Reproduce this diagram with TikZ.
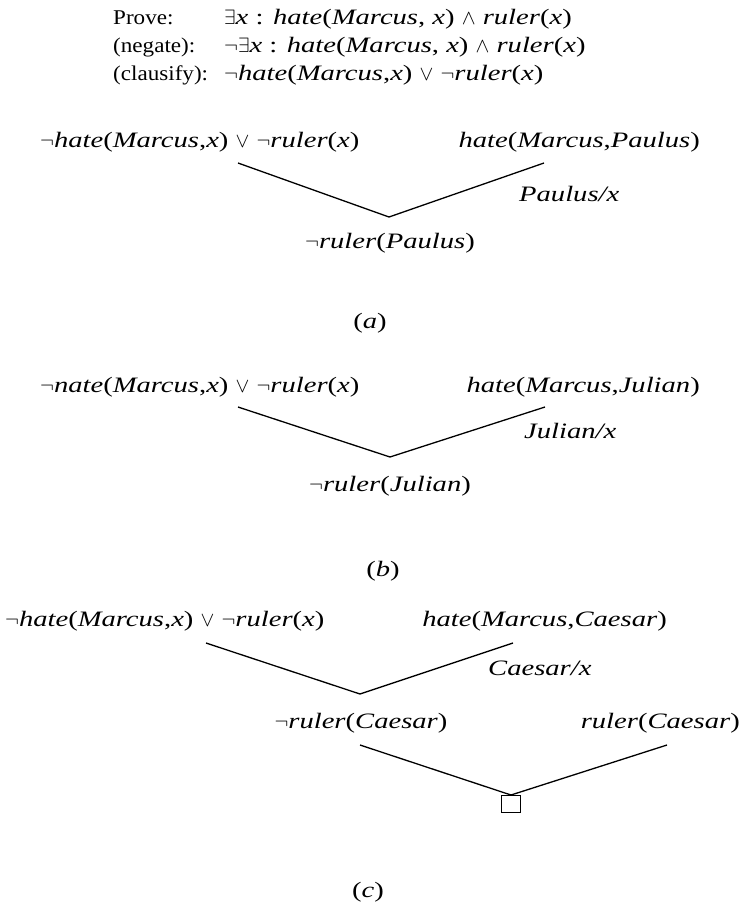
\documentclass[tikz,border=0pt]{standalone}
\usepackage{fontspec}
\setmainfont{Liberation Serif}[FakeStretch=1.3]
\newfontfamily\hdrfont{Liberation Serif}[FakeStretch=1.1]
\newcommand\pr[1]{\textit{#1}}
\newcommand\lgNeg{\ensuremath{\neg}}
\newcommand\lgOr{\ensuremath{\vee}}
\newcommand\lgAnd{\ensuremath{\wedge}}
\newcommand\lgEx{\ensuremath{\exists}}
\begin{document}
\begin{tikzpicture}[x=1pt,y=-1pt,
  txt/.style={inner sep=0pt,anchor=base west,font=\fontsize{22}{26}\selectfont},
  hdr/.style={inner sep=0pt,anchor=base west,font=\hdrfont\fontsize{21}{26}\selectfont},
  txtr/.style={txt,anchor=base east},
  txtc/.style={txt,anchor=base},
  edge/.style={line width=1.3pt,line join=miter},
  empty/.style={draw,line width=1.2pt,minimum width=19pt,minimum height=17pt,inner sep=0pt,anchor=north}]
\useasboundingbox (0,0) rectangle (741,906);

% goal and its negation in clause form
\node[hdr] (h1l) at (113,24) {Prove:};
\node[hdr] (h2l) at (113,52) {(negate):};
\node[hdr] (h3l) at (113,80) {(clausify):};
\node[txt] (h1r) at (224,24) {\lgEx\pr{x} : \pr{hate}(\pr{Marcus}, \pr{x}) \lgAnd{} \pr{ruler}(\pr{x})};
\node[txt] (h2r) at (224,52) {\lgNeg\lgEx\pr{x} : \pr{hate}(\pr{Marcus}, \pr{x}) \lgAnd{} \pr{ruler}(\pr{x})};
\node[txt] (h3r) at (224,80) {\lgNeg\pr{hate}(\pr{Marcus},\pr{x}) \lgOr{} \lgNeg\pr{ruler}(\pr{x})};

% (a) resolution with Paulus
\node[txt] (a1) at (40,147) {\lgNeg\pr{hate}(\pr{Marcus},\pr{x}) \lgOr{} \lgNeg\pr{ruler}(\pr{x})};
\node[txtr] (a2) at (700,147) {\pr{hate}(\pr{Marcus},\pr{Paulus})};
\coordinate (aL) at (238,163);
\coordinate (aV) at (389,217);
\coordinate (aR) at (544,163);
\draw[edge] (aL) -- (aV) -- (aR);
\node[txt] (asub) at (519,201) {\pr{Paulus/x}};
\node[txtc] (ares) at (390,248) {\lgNeg\pr{ruler}(\pr{Paulus})};
\node[txtc] (acap) at (370,328) {(\pr{a})};

% (b) resolution with Julian
\node[txt] (b1) at (40,392) {\lgNeg\pr{nate}(\pr{Marcus},\pr{x}) \lgOr{} \lgNeg\pr{ruler}(\pr{x})};
\node[txtr] (b2) at (700,392) {\pr{hate}(\pr{Marcus},\pr{Julian})};
\coordinate (bL) at (238,407);
\coordinate (bV) at (390,457);
\coordinate (bR) at (545,407);
\draw[edge] (bL) -- (bV) -- (bR);
\node[txt] (bsub) at (524,438) {\pr{Julian/x}};
\node[txtc] (bres) at (390,491) {\lgNeg\pr{ruler}(\pr{Julian})};
\node[txtc] (bcap) at (383,576) {(\pr{b})};

% (c) resolution with Caesar, ending in the empty clause
\node[txt] (c1) at (5,626) {\lgNeg\pr{hate}(\pr{Marcus},\pr{x}) \lgOr{} \lgNeg\pr{ruler}(\pr{x})};
\node[txtr] (c2) at (667,626) {\pr{hate}(\pr{Marcus},\pr{Caesar})};
\coordinate (cL) at (206,643);
\coordinate (cV) at (360,694);
\coordinate (cR) at (513,643);
\draw[edge] (cL) -- (cV) -- (cR);
\node[txt] (csub) at (488,675) {\pr{Caesar/x}};
\node[txtc] (cres) at (361,728) {\lgNeg\pr{ruler}(\pr{Caesar})};
\node[txtr] (cfact) at (740,728) {\pr{ruler}(\pr{Caesar})};
\coordinate (dL) at (360,745);
\coordinate (dR) at (667,745);
\node[empty] (box) at (511,795) {};
\draw[edge] (dL) -- (box.north) -- (dR);
\node[txtc] (ccap) at (368,897) {(\pr{c})};
\end{tikzpicture}
\end{document}
